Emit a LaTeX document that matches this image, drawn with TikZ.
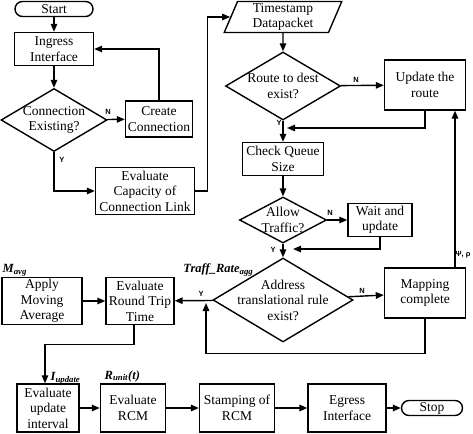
\documentclass[tikz,border=0pt]{standalone}
\usepackage{fontspec}
\setmainfont{Liberation Serif}
\setsansfont{Liberation Sans}
\usetikzlibrary{shapes.geometric,arrows.meta}

\begin{document}
\begin{tikzpicture}[x=1pt,y=-1pt,
  every node/.style={font=\fontsize{13.5}{15.5}\selectfont,align=center,line width=1.4pt},
  box/.style={draw,rectangle,inner sep=1pt},
  term/.style={draw,rectangle,rounded corners=7.5pt,minimum height=15pt,inner sep=0pt},
  dec/.style={draw,diamond,aspect=1.8,inner sep=-6pt},
  yn/.style={font=\fontsize{7.5}{8}\selectfont\sffamily\bfseries,inner sep=0pt},
  var/.style={font=\fontsize{12.5}{13}\selectfont\bfseries\itshape,inner sep=0pt},
  arr/.style={-{Triangle[length=8pt,width=6.5pt]},line width=1.4pt}]
  \useasboundingbox (0,0) rectangle (473,433);

  \node[term,minimum width=78pt] (start) at (54,9) {Start};
  \node[box,minimum width=79pt,minimum height=33pt] (ingress) at (54,49) {Ingress\\Interface};
  \node[dec,minimum width=106pt,minimum height=63pt] (conn) at (54,120) {Connection\\Existing?};
  \node[box,minimum width=67pt,minimum height=36pt] (create) at (159,119) {Create\\Connection};
  \node[box,minimum width=99pt,minimum height=47pt] (capacity) at (145,191) {Evaluate\\Capacity of\\Connection Link};
  \node[draw,trapezium,trapezium left angle=72,trapezium right angle=108,trapezium stretches=true,
        minimum width=118pt,minimum height=31pt,inner sep=0pt] (tstamp) at (283,17) {Timestamp\\Datapacket};
  \node[dec,minimum width=115pt,minimum height=68pt] (route) at (283,86) {Route to dest\\exist?};
  \node[box,minimum width=81pt,minimum height=50pt] (update) at (425,85) {Update the\\route};
  \node[box,minimum width=81pt,minimum height=33pt] (queue) at (283,159) {Check Queue\\Size};
  \node[dec,minimum width=87pt,minimum height=46pt] (allow) at (283,220) {Allow\\Traffic?};
  \node[box,minimum width=64pt,minimum height=33pt] (wait) at (380,220) {Wait and\\update};
  \node[dec,minimum width=140pt,minimum height=84pt] (addr) at (283,300) {Address\\translational rule\\exist?};
  \node[box,minimum width=81pt,minimum height=50pt] (mapping) at (425,293) {Mapping\\complete};
  \node[box,minimum width=68pt,minimum height=47pt] (rtt) at (140,301) {Evaluate\\Round Trip\\Time};
  \node[box,minimum width=80pt,minimum height=47pt] (avg) at (42,301) {Apply\\Moving\\Average};
  \node[box,minimum width=62pt,minimum height=48pt] (interval) at (48,408) {Evaluate\\update\\interval};
  \node[box,minimum width=65pt,minimum height=48pt] (rcm) at (133,408) {Evaluate\\RCM};
  \node[box,minimum width=75pt,minimum height=48pt] (stamping) at (237,408) {Stamping of\\RCM};
  \node[box,minimum width=78pt,minimum height=48pt] (egress) at (347,408) {Egress\\Interface};
  \node[term,minimum width=61pt] (stop) at (432,408) {Stop};

  \node[var,anchor=west] (mavg) at (2,270) {M\textsubscript{avg}};
  \node[var,anchor=east] (traff) at (254,270) {Traff\_Rate\textsubscript{agg}};
  \node[var,anchor=west] (iupd) at (50,378) {I\textsubscript{update}};
  \node[var,anchor=west] (runit) at (104,376) {R\textsubscript{unit}(t)};
  \node[yn] (psirho) at (463,255) {Ψ, ρ};

  \node[yn] (nconn) at (108,112) {N};
  \node[yn] (yconn) at (62,160) {Y};
  \node[yn] (nroute) at (356,80) {N};
  \node[yn] (yroute) at (279,123) {Y};
  \node[yn] (nallow) at (330,213) {N};
  \node[yn] (yallow) at (273,250) {Y};
  \node[yn] (naddr) at (362,291) {N};
  \node[yn] (yaddr) at (201,294) {Y};

  \coordinate (jroute) at (287,128);
  \coordinate (jwait) at (293,249);
  \coordinate (jloop) at (206,303);

  \path[arr]
    (start) edge (ingress)
    (ingress) edge (conn)
    (conn) edge (create)
    (tstamp) edge (route)
    (route) edge (update)
            edge (queue)
    (queue) edge (allow)
    (allow) edge (wait)
            edge (addr)
    (addr) edge (mapping)
           edge (rtt)
    (avg) edge (rtt)
    (interval) edge (rcm)
    (rcm) edge (stamping)
    (stamping) edge (egress)
    (egress) edge (stop);
  \draw[arr] (create.north) |- (ingress.east);
  \draw[arr] (conn.south) |- (capacity.west);
  \draw[arr] (capacity.east) -- ++(12,0) |- (tstamp.west);
  \draw[arr] (update.south) |- (jroute);
  \draw[arr] (wait.south) |- (jwait);
  \draw[arr] ([xshift=30pt]mapping.north) -- ([xshift=30pt]update.south);
  \draw[arr] (mapping.south) -- ++(0,35) -| (jloop);
  \draw[arr] ([xshift=-6pt]rtt.south) -- ++(0,19) -| ([xshift=-3pt]interval.north);
\end{tikzpicture}
\end{document}
